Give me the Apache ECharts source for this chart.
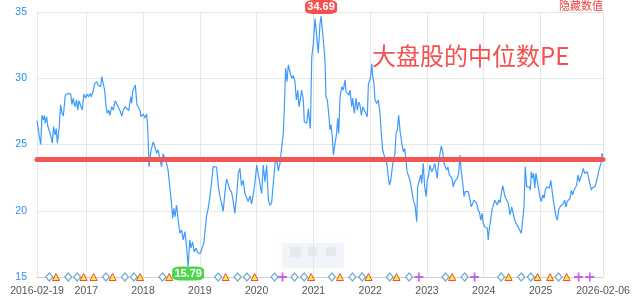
<!DOCTYPE html>
<html><head><meta charset="utf-8">
<script src="https://cdn.jsdelivr.net/npm/echarts@6/dist/echarts.min.js"></script>
<style>html,body{margin:0;padding:0;background:#fff}#c{width:636px;height:301px}</style>
</head><body><div id="c"></div>
<script>
// ---- data ----
const peDates = [
'2016-02-19','2016-03-05','2016-03-14','2016-03-22','2016-03-31','2016-04-06','2016-04-12','2016-04-21','2016-04-28','2016-05-08',
'2016-05-17','2016-05-27','2016-06-05','2016-06-14','2016-06-22','2016-06-29','2016-07-11','2016-07-20','2016-07-29','2016-08-06',
'2016-08-19','2016-08-28','2016-09-03','2016-09-14','2016-09-23','2016-10-01','2016-10-09','2016-10-20','2016-10-31','2016-11-07',
'2016-11-15','2016-11-26','2016-12-06','2016-12-17','2016-12-28','2017-01-05','2017-01-16','2017-01-25','2017-02-02','2017-02-13',
'2017-02-24','2017-03-09','2017-03-17','2017-03-26','2017-04-04','2017-04-10','2017-04-20','2017-04-29','2017-05-08','2017-05-16',
'2017-05-25','2017-06-02','2017-06-13','2017-06-24','2017-07-05','2017-07-15','2017-07-26','2017-08-06','2017-08-17','2017-08-27',
'2017-09-07','2017-09-18','2017-10-01','2017-10-14','2017-10-20','2017-10-26','2017-11-04','2017-11-12','2017-11-23','2017-12-04',
'2017-12-12','2017-12-19','2018-01-02','2018-01-13','2018-01-24','2018-01-30','2018-02-03','2018-02-09','2018-02-20','2018-03-07',
'2018-03-18','2018-03-29','2018-04-08','2018-04-19','2018-04-30','2018-05-10','2018-05-21','2018-06-01','2018-06-11','2018-06-22',
'2018-07-03','2018-07-10','2018-07-18','2018-07-26','2018-08-04','2018-08-15','2018-08-26','2018-09-06','2018-09-16','2018-09-27',
'2018-10-08','2018-10-18','2018-10-29','2018-11-06','2018-11-15','2018-11-26','2018-12-07','2018-12-21','2019-01-06','2019-01-19',
'2019-01-27','2019-02-04','2019-02-13','2019-02-24','2019-03-07','2019-03-18','2019-03-28','2019-04-08','2019-04-19','2019-04-29',
'2019-05-10','2019-05-21','2019-05-31','2019-06-11','2019-06-22','2019-07-02','2019-07-13','2019-07-24','2019-08-03','2019-08-14',
'2019-08-25','2019-09-05','2019-09-16','2019-09-26','2019-10-07','2019-10-18','2019-10-29','2019-11-08','2019-11-19','2019-11-30',
'2019-12-10','2019-12-21','2020-01-02','2020-01-12','2020-01-23','2020-02-03','2020-02-13','2020-02-24','2020-03-06','2020-03-17',
'2020-03-27','2020-04-07','2020-04-18','2020-04-29','2020-05-10','2020-05-20','2020-05-31','2020-06-11','2020-06-21','2020-06-27',
'2020-07-06','2020-07-15','2020-07-23','2020-08-03','2020-08-14','2020-08-24','2020-09-04','2020-09-13','2020-09-22','2020-09-30',
'2020-10-08','2020-10-17','2020-10-28','2020-11-03','2020-11-19','2020-11-29','2020-12-12','2020-12-21','2020-12-31','2021-01-11',
'2021-01-22','2021-02-01','2021-02-12','2021-02-19','2021-03-05','2021-03-16','2021-03-22','2021-03-31','2021-04-09','2021-04-17',
'2021-04-24','2021-05-02','2021-05-09','2021-05-20','2021-05-30','2021-06-06','2021-06-12','2021-06-21','2021-07-02','2021-07-12',
'2021-07-23','2021-07-29','2021-08-07','2021-08-16','2021-08-24','2021-09-04','2021-09-10','2021-09-21','2021-10-02','2021-10-10',
'2021-10-19','2021-10-27','2021-11-05','2021-11-14','2021-11-24','2021-12-03','2021-12-13','2021-12-20','2021-12-26','2022-01-04',
'2022-01-11','2022-01-17','2022-01-25','2022-02-01','2022-02-12','2022-02-22','2022-03-05','2022-03-13','2022-03-22','2022-03-31',
'2022-04-08','2022-04-17','2022-04-25','2022-05-04','2022-05-13','2022-05-21','2022-05-29','2022-06-09','2022-06-16','2022-06-24',
'2022-07-03','2022-07-12','2022-07-23','2022-08-02','2022-08-11','2022-08-19','2022-08-26','2022-09-03','2022-09-14','2022-09-25',
'2022-10-05','2022-10-16','2022-10-27','2022-11-02','2022-11-11','2022-11-22','2022-11-28','2022-12-08','2022-12-17','2022-12-26',
'2023-01-03','2023-01-12','2023-01-20','2023-01-31','2023-02-11','2023-02-20','2023-02-28','2023-03-08','2023-03-17','2023-03-26',
'2023-04-03','2023-04-12','2023-04-21','2023-04-29','2023-05-08','2023-05-16','2023-05-25','2023-06-03','2023-06-11','2023-06-19',
'2023-06-28','2023-07-07','2023-07-15','2023-07-24','2023-08-01','2023-08-10','2023-08-19','2023-08-27','2023-09-04','2023-09-13',
'2023-09-24','2023-10-05','2023-10-13','2023-10-22','2023-10-30','2023-11-08','2023-11-17','2023-11-25','2023-12-04','2023-12-13',
'2023-12-21','2023-12-29','2024-01-07','2024-01-16','2024-01-24','2024-01-30','2024-02-06','2024-02-15','2024-02-23','2024-03-03',
'2024-03-12','2024-03-20','2024-03-28','2024-04-06','2024-04-15','2024-04-23','2024-05-02','2024-05-06','2024-05-17','2024-05-28',
'2024-06-07','2024-06-18','2024-06-29','2024-07-09','2024-07-18','2024-07-27','2024-08-04','2024-08-13','2024-08-21','2024-08-30',
'2024-09-08','2024-09-16','2024-09-24','2024-10-03','2024-10-12','2024-10-20','2024-10-27','2024-11-02','2024-11-11','2024-11-17',
'2024-11-24','2024-12-02','2024-12-11','2024-12-20','2024-12-27','2025-01-05','2025-01-14','2025-01-23','2025-01-31','2025-02-09',
'2025-02-17','2025-02-26','2025-03-07','2025-03-15','2025-03-23','2025-04-01','2025-04-10','2025-04-18','2025-04-27','2025-05-06',
'2025-05-16','2025-05-27','2025-06-05','2025-06-13','2025-06-21','2025-07-01','2025-07-09','2025-07-17','2025-07-26','2025-08-04',
'2025-08-12','2025-08-21','2025-08-29','2025-09-07','2025-09-16','2025-09-24','2025-10-02','2025-10-11','2025-10-20','2025-10-28',
'2025-11-06','2025-11-14','2025-11-23','2025-12-02','2025-12-10','2025-12-19','2025-12-28','2026-01-04','2026-01-11','2026-01-17',
'2026-01-24','2026-01-30','2026-02-06'
];
const peValues = [
26.8,25.6,25.0,27.2,26.85,27.2,26.6,27.1,26.4,26.55,
25.7,25.1,26.35,25.7,26.2,25.1,26.35,28.0,27.35,27.15,
28.7,28.65,28.86,28.73,28.8,28.0,28.5,27.85,28.36,27.6,
28.3,28.18,27.6,28.8,28.5,28.8,28.6,28.86,28.6,28.98,
29.57,29.74,29.49,29.57,29.36,30.12,30.17,29.1,27.85,27.35,
27.6,27.2,27.85,27.6,28.3,28.1,28.1,27.55,27.15,27.6,
27.85,27.73,27.55,28.6,28.1,28.98,28.86,29.5,27.98,27.9,
27.6,27.1,27.3,27.0,27.3,26.4,25.3,23.3,24.46,25.2,
24.83,24.34,24.6,23.96,23.33,24.3,24.38,23.58,23.07,21.8,
20.56,19.43,20.18,19.55,20.43,19.3,18.3,18.55,17.8,18.42,
17.3,15.79,17.8,17.17,17.66,16.9,17.17,16.8,16.8,17.3,
17.54,18.55,19.55,20.18,21.06,22.19,23.33,23.2,23.3,22.0,
21.1,20.6,19.95,21.3,22.4,22.3,21.6,21.4,20.8,19.8,
21.0,22.8,23.2,21.9,22.3,21.3,21.4,20.7,21.1,20.5,
21.2,22.0,23.45,23.4,22.0,21.3,23.45,22.2,23.45,20.8,
20.4,20.6,20.7,23.6,23.8,23.0,23.6,24.83,25.84,27.5,
30.75,29.74,31.0,31.13,30.0,30.2,29.74,28.36,29.1,27.85,
28.36,29.1,28.36,26.7,26.6,27.7,26.2,31.6,32.6,34.5,
34.65,31.9,34.15,34.69,32.9,31.4,28.6,28.36,27.35,26.1,
26.5,25.6,24.2,25.1,25.84,26.98,25.84,28.6,29.36,29.1,
29.87,29.0,29.1,28.73,29.1,27.85,28.5,27.35,28.5,27.6,
28.2,27.98,27.2,27.85,27.73,27.35,27.1,29.5,29.74,30.1,
31.1,30.2,29.6,28.36,28.1,28.36,27.35,25.84,24.6,24.2,
24.3,23.6,22.8,21.94,22.3,23.07,23.8,24.3,25.84,26.1,
27.2,26.0,25.1,24.46,24.7,24.6,22.95,23.07,22.3,21.56,
20.8,20.43,19.17,21.8,21.94,22.7,22.07,23.58,21.8,21.06,
22.3,22.7,23.45,22.95,23.2,23.58,23.45,22.45,23.58,24.34,
24.9,24.46,23.58,23.7,23.07,23.3,22.7,22.57,22.45,21.8,
22.19,22.3,22.45,22.82,24.2,22.95,22.07,21.06,21.44,21.3,
21.44,20.8,20.3,20.18,20.8,20.7,20.56,20.06,19.9,19.3,
19.8,19.05,18.8,18.9,18.68,17.8,18.68,19.3,20.06,20.43,
20.8,20.94,20.43,20.8,20.6,21.3,21.9,22.0,21.06,21.2,
20.56,19.68,20.3,20.18,19.3,19.05,18.93,18.68,18.55,18.3,
18.17,20.3,23.33,21.8,21.7,21.8,21.56,22.95,22.45,22.82,
21.7,22.82,22.19,22.19,21.06,20.7,21.2,20.94,21.56,21.8,
21.94,21.7,22.3,21.56,20.8,20.18,19.55,19.3,20.06,20.3,
20.43,20.56,20.8,20.3,20.7,20.8,20.94,21.56,21.2,21.56,
21.7,21.94,22.7,22.19,22.19,22.82,23.2,22.82,22.7,22.95,
22.45,22.3,21.56,21.76,21.86,21.86,21.94,22.7,23.07,23.07,
23.58,24.34,24.1
];
const avgPE = 23.9;
const xTickDates = ['2016-02-19','2017-01-01','2018-01-01','2019-01-01','2020-01-01','2021-01-01','2022-01-01','2023-01-01','2024-01-01','2025-01-01','2026-02-06'];
const xTickLabels = ['2016-02-19','2017','2018','2019','2020','2021','2022','2023','2024','2025','2026-02-06'];
const diamondDates = ['2016-05-08','2016-09-07','2016-11-04','2017-05-07','2017-09-06','2017-11-03','2018-05-06','2019-04-29','2019-09-01','2019-10-31','2020-04-26','2020-09-01','2020-11-02','2021-04-29','2021-09-09','2021-11-10','2022-05-07','2022-09-08','2023-04-30','2023-08-31','2024-04-22','2024-08-29','2024-10-30','2025-04-26'];
const triangleDates = ['2016-06-20','2016-12-15','2017-02-17','2017-06-19','2017-12-13','2018-06-18','2019-06-16','2019-12-19','2020-12-17','2021-06-20','2021-12-21','2022-06-19','2023-06-12','2024-06-09','2024-12-12','2025-03-03','2025-06-17'];
const plusDates = ['2020-06-16','2022-11-10','2023-11-03','2025-09-02','2025-11-13'];
const markerLevel = 15;

// ---- helpers ----
function toTime(s){const p=s.split('-').map(Number);return Date.UTC(p[0],p[1]-1,p[2]);}
const tickTimes = xTickDates.map(toTime);
function tickLabel(v){
  let best=-1,bd=Infinity;
  tickTimes.forEach((t,i)=>{const d=Math.abs(t-v);if(d<bd){bd=d;best=i;}});
  return bd<86400000?xTickLabels[best]:'';
}

const chart = echarts.init(document.getElementById('c'), null, {renderer:'canvas'});
const font = 'Liberation Sans, Arial, sans-serif';
chart.setOption({
  animation:false,
  textStyle:{fontFamily:font},
  grid:{left:37,right:33,top:12,bottom:24,containLabel:false},
  xAxis:{
    type:'value', min:tickTimes[0], max:tickTimes[tickTimes.length-1], scale:true,
    axisLine:{show:true,lineStyle:{color:'#d0d0d0'}},
    axisTick:{show:false,customValues:tickTimes},
    axisLabel:{customValues:tickTimes,formatter:tickLabel,color:'#555',fontSize:10.5,margin:9,hideOverlap:false},
    splitLine:{show:true,lineStyle:{color:'#e6e6e6'}}
  },
  yAxis:{
    type:'value', min:15, max:35, interval:5,
    axisLine:{show:false}, axisTick:{show:false},
    axisLabel:{color:'#2b8ef0',fontSize:10.5,margin:10},
    splitLine:{show:true,lineStyle:{color:'#e6e6e6'}}
  },
  graphic:[
    {type:'text',left:372,top:44,z:100,style:{text:'大盘股的中位数PE',font:'24px "Noto Sans CJK SC"',fill:'#f5504f'}},
    {type:'text',right:33,top:0,z:100,style:{text:'隐藏数值',font:'11px "Noto Sans CJK SC"',fill:'#e8433f'}},
    {type:'rect',shape:{x:282,y:243,width:62,height:25},style:{fill:'rgba(225,233,244,0.35)',shadowBlur:6,shadowColor:'rgba(225,233,244,0.6)'},z:1},
    {type:'rect',shape:{x:290,y:247,width:11,height:10},style:{fill:'rgba(200,200,208,0.22)',shadowBlur:4,shadowColor:'rgba(200,200,208,0.3)'},z:1},
    {type:'rect',shape:{x:308,y:247,width:9,height:9},style:{fill:'rgba(200,200,208,0.22)',shadowBlur:4,shadowColor:'rgba(200,200,208,0.3)'},z:1},
    {type:'rect',shape:{x:326,y:247,width:10,height:9},style:{fill:'rgba(200,200,208,0.22)',shadowBlur:4,shadowColor:'rgba(200,200,208,0.3)'},z:1}
  ],
  series:[
    {
      type:'line', name:'PE', z:3,
      data:peDates.map((d,i)=>[toTime(d),peValues[i]]),
      showSymbol:false, symbol:'none',
      lineStyle:{color:'#3d9bff',width:1.2},
      itemStyle:{color:'#3d9bff'},
      markLine:{
        symbol:'none', silent:true, label:{show:false},
        lineStyle:{color:'#f35454',width:5,type:'solid',cap:'round'},
        data:[{yAxis:avgPE}]
      },
      markPoint:{
        symbol:'roundRect', symbolSize:[32,14],
        label:{show:true,color:'#fff',fontSize:11,fontWeight:'bold',formatter:p=>Number(p.value).toFixed(2)},
        data:[
          {type:'max',symbolOffset:[0,-9],itemStyle:{color:'#f5504f'}},
          {type:'min',symbolOffset:[0,7],itemStyle:{color:'#4cd64c'}}
        ]
      }
    },
    {
      type:'scatter', z:2, symbol:'diamond', symbolSize:[7,8],
      data:diamondDates.map(d=>[toTime(d),markerLevel]),
      itemStyle:{color:'#fff',borderColor:'#5599c0',borderWidth:1.3}
    },
    {
      type:'scatter', z:2, symbol:'triangle', symbolSize:[7,7],
      data:triangleDates.map(d=>[toTime(d),markerLevel]),
      itemStyle:{color:'#ffee10',borderColor:'#f02020',borderWidth:1}
    },
    {
      type:'scatter', z:2, symbol:'path://M4,0H6V4H10V6H6V10H4V6H0V4H4Z', symbolSize:[9,9],
      data:plusDates.map(d=>[toTime(d),markerLevel]),
      itemStyle:{color:'#b844e0'}
    }
  ]
});
</script>
</body></html>
